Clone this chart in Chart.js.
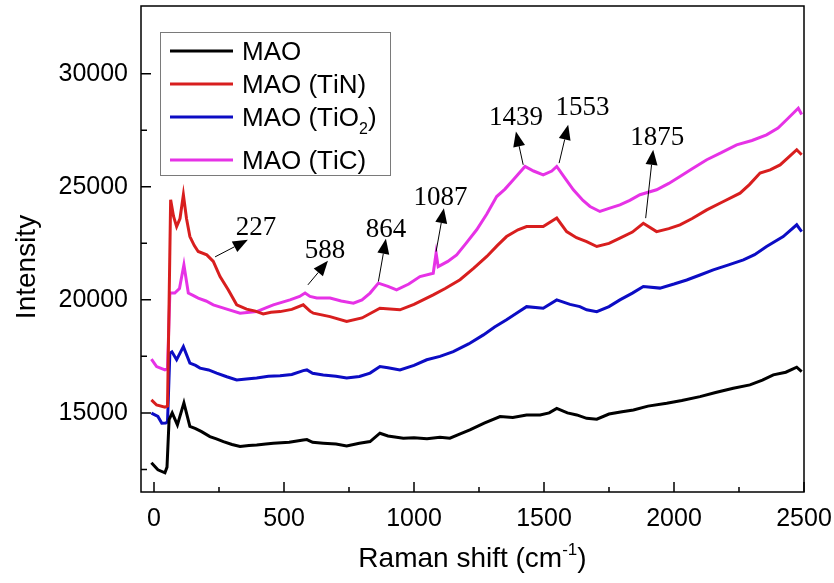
<!DOCTYPE html>
<html>
<head>
<meta charset="utf-8">
<script src="https://cdn.jsdelivr.net/npm/chart.js@4.4.1/dist/chart.umd.min.js"></script>
<style>
  html, body { margin: 0; padding: 0; background: #fff; }
</style>
</head>
<body>
<canvas id="chart" width="834" height="583"></canvas>
<script>
// axis ticks
const xTicksMajor = [0, 500, 1000, 1500, 2000, 2500];
const xTicksMinor = [250, 750, 1250, 1750, 2250];
const yTicksMajor = [15000, 20000, 25000, 30000];
const yTicksMinor = [12500, 17500, 22500, 27500];

const seriesNames = ["MAO", "MAO (TiN)", "MAO (TiO\u2082)", "MAO (TiC)"];

// MAO (black)
const shiftMAO = [-10, 15, 42, 50, 58, 70, 90, 115, 138, 160, 183, 215, 240, 267, 300, 331, 365, 395, 430, 459, 520, 574, 588, 610, 651, 700, 741, 790, 831, 869, 900, 959, 1000, 1050, 1100, 1138, 1180, 1215, 1270, 1331, 1380, 1433, 1485, 1520, 1549, 1590, 1626, 1664, 1703, 1750, 1800, 1844, 1900, 1972, 2030, 2100, 2160, 2228, 2292, 2340, 2382, 2430, 2472, 2491];
const intMAO = [12790, 12480, 12350, 12600, 14700, 15000, 14470, 15440, 14400, 14300, 14170, 13950, 13850, 13730, 13600, 13510, 13560, 13580, 13620, 13660, 13700, 13800, 13820, 13700, 13660, 13620, 13540, 13660, 13730, 14100, 13980, 13880, 13900, 13860, 13920, 13880, 14080, 14250, 14550, 14840, 14800, 14910, 14910, 15000, 15200, 15000, 14910, 14760, 14720, 14950, 15050, 15130, 15300, 15430, 15550, 15720, 15900, 16090, 16240, 16450, 16680, 16800, 17020, 16830];

// MAO (TiN) (red)
const shiftTiN = [-10, 10, 42, 52, 64, 75, 87, 100, 113, 125, 138, 155, 170, 203, 228, 254, 286, 318, 356, 390, 420, 450, 485, 530, 574, 600, 613, 677, 741, 800, 869, 946, 1000, 1074, 1120, 1177, 1230, 1280, 1320, 1356, 1400, 1433, 1497, 1549, 1587, 1625, 1664, 1703, 1750, 1792, 1840, 1882, 1933, 1980, 2023, 2070, 2126, 2190, 2254, 2290, 2331, 2370, 2408, 2440, 2472, 2491];
const intTiN = [15575, 15350, 15250, 15300, 24430, 23700, 23240, 23600, 24650, 23600, 22800, 22400, 22140, 21990, 21700, 21030, 20440, 19780, 19590, 19500, 19380, 19450, 19480, 19580, 19780, 19500, 19410, 19260, 19040, 19200, 19630, 19560, 19800, 20220, 20500, 20890, 21400, 21920, 22400, 22800, 23100, 23240, 23240, 23620, 23020, 22750, 22580, 22360, 22500, 22730, 23000, 23390, 23020, 23150, 23320, 23600, 23980, 24350, 24720, 25100, 25610, 25750, 25970, 26300, 26640, 26420];

// MAO (TiO2) (blue)
const shiftTiO2 = [-10, 15, 30, 45, 52, 61, 69, 87, 113, 138, 160, 177, 210, 241, 280, 318, 355, 395, 440, 485, 530, 574, 588, 610, 651, 700, 741, 790, 831, 869, 900, 946, 1000, 1049, 1100, 1151, 1210, 1267, 1310, 1356, 1400, 1433, 1497, 1549, 1600, 1638, 1664, 1703, 1750, 1792, 1840, 1882, 1946, 2000, 2049, 2100, 2151, 2210, 2267, 2310, 2356, 2420, 2472, 2491];
const intTiO2 = [14990, 14840, 14540, 14550, 14600, 17640, 17700, 17350, 17930, 17200, 17100, 16980, 16900, 16760, 16600, 16460, 16500, 16540, 16620, 16640, 16700, 16870, 16900, 16750, 16680, 16620, 16540, 16610, 16760, 17050, 17000, 16900, 17100, 17350, 17500, 17710, 18050, 18450, 18800, 19120, 19450, 19700, 19630, 20000, 19800, 19700, 19560, 19480, 19700, 20000, 20300, 20590, 20520, 20700, 20880, 21100, 21330, 21550, 21770, 22000, 22360, 22800, 23320, 23020];

// MAO (TiC) (magenta)
const shiftTiC = [-10, 10, 42, 52, 61, 80, 98, 115, 132, 150, 170, 200, 228, 280, 331, 395, 430, 459, 523, 560, 581, 600, 626, 677, 720, 767, 800, 831, 863, 900, 933, 980, 1023, 1074, 1085, 1093, 1130, 1164, 1200, 1241, 1280, 1318, 1350, 1382, 1427, 1460, 1497, 1530, 1549, 1580, 1613, 1650, 1677, 1715, 1750, 1792, 1830, 1869, 1933, 1980, 2023, 2070, 2126, 2180, 2241, 2300, 2356, 2400, 2433, 2478, 2491];
const intTiC = [17380, 17050, 16900, 16950, 20300, 20300, 20500, 21550, 20300, 20200, 20080, 19950, 19780, 19590, 19410, 19480, 19650, 19780, 20000, 20150, 20300, 20150, 20080, 20080, 19950, 19850, 20000, 20300, 20740, 20600, 20440, 20700, 21030, 21180, 22070, 21470, 21700, 21990, 22500, 23100, 23800, 24570, 24900, 25310, 25900, 25700, 25530, 25700, 25900, 25400, 24870, 24400, 24130, 23910, 24050, 24200, 24400, 24650, 24870, 25150, 25460, 25800, 26200, 26500, 26860, 27050, 27300, 27600, 27970, 28480, 28200];

// peak labels: text anchor, arrow tail and arrow tip, in data units
const peakLabels = ["227", "588", "864", "1087", "1439", "1553", "1875"];
const peakTextX = [392, 658, 892, 1102, 1392, 1648, 1936];
const peakTextY = [22876, 21858, 22788, 24204, 27743, 28186, 26858];
const peakTailX = [235, 592, 863, 1085, 1420, 1558, 1891];
const peakTailY = [21903, 20664, 20810, 22137, 25974, 26049, 23615];
const peakTipX = [361, 669, 892, 1115, 1392, 1593, 1920];
const peakTipY = [22655, 21726, 22700, 24058, 27447, 27743, 26637];

const colors = ["#000000", "#d81e1e", "#0c0cc4", "#e632e6"];
const SANS = "'Liberation Sans', Arial, sans-serif";
const SERIF = "'Liberation Serif', 'Times New Roman', serif";

function toPoints(xs, ys) {
  return xs.map((x, i) => ({ x: x, y: ys[i] }));
}

const datasets = [
  toPoints(shiftMAO, intMAO),
  toPoints(shiftTiN, intTiN),
  toPoints(shiftTiO2, intTiO2),
  toPoints(shiftTiC, intTiC)
].map((pts, i) => ({
  label: seriesNames[i],
  data: pts,
  borderColor: colors[i],
  borderWidth: 3,
  pointRadius: 0,
  tension: 0,
  fill: false
}));

// text with unicode subscript 2 drawn as a lowered small digit
function drawRich(ctx, text, x, y, size) {
  let cx = x;
  for (const ch of text) {
    if (ch === "\u2082") {
      ctx.font = Math.round(size * 0.62) + "px " + SANS;
      ctx.fillText("2", cx, y + size * 0.3);
      cx += ctx.measureText("2").width;
    } else {
      ctx.font = size + "px " + SANS;
      ctx.fillText(ch, cx, y);
      cx += ctx.measureText(ch).width;
    }
  }
}

const decorPlugin = {
  id: "decor",
  afterDatasetsDraw(chart) {
    const ctx = chart.ctx;
    const a = chart.chartArea;
    const xs = chart.scales.x, ys = chart.scales.y;
    ctx.save();

    // frame
    ctx.strokeStyle = "#000";
    ctx.lineWidth = 1.5;
    ctx.strokeRect(a.left, a.top, a.right - a.left, a.bottom - a.top);

    // inward ticks
    ctx.beginPath();
    xTicksMajor.forEach(v => { const p = xs.getPixelForValue(v); ctx.moveTo(p, a.bottom); ctx.lineTo(p, a.bottom - 10); });
    xTicksMinor.forEach(v => { const p = xs.getPixelForValue(v); ctx.moveTo(p, a.bottom); ctx.lineTo(p, a.bottom - 5); });
    yTicksMajor.forEach(v => { const p = ys.getPixelForValue(v); ctx.moveTo(a.left, p); ctx.lineTo(a.left + 10, p); });
    yTicksMinor.forEach(v => { const p = ys.getPixelForValue(v); ctx.moveTo(a.left, p); ctx.lineTo(a.left + 6, p); });
    ctx.stroke();

    // peak annotations
    ctx.fillStyle = "#000";
    ctx.strokeStyle = "#000";
    ctx.lineWidth = 1;
    peakLabels.forEach((lab, i) => {
      const tx = xs.getPixelForValue(peakTailX[i]), ty = ys.getPixelForValue(peakTailY[i]);
      const hx = xs.getPixelForValue(peakTipX[i]), hy = ys.getPixelForValue(peakTipY[i]);
      const ang = Math.atan2(hy - ty, hx - tx);
      const len = 15, half = 6;
      const bx = hx - len * Math.cos(ang), by = hy - len * Math.sin(ang);
      ctx.beginPath();
      ctx.moveTo(tx, ty);
      ctx.lineTo(bx, by);
      ctx.stroke();
      ctx.beginPath();
      ctx.moveTo(hx, hy);
      ctx.lineTo(bx + half * Math.sin(ang), by - half * Math.cos(ang));
      ctx.lineTo(bx - half * Math.sin(ang), by + half * Math.cos(ang));
      ctx.closePath();
      ctx.fill();

      ctx.font = "27px " + SERIF;
      ctx.textAlign = "center";
      ctx.textBaseline = "alphabetic";
      ctx.fillText(lab, xs.getPixelForValue(peakTextX[i]), ys.getPixelForValue(peakTextY[i]));
    });

    // legend box
    const lx = 160, ly = 32, lw = 230, lh = 143;
    ctx.fillStyle = "#fff";
    ctx.fillRect(lx, ly, lw, lh);
    ctx.strokeStyle = "#7a7a7a";
    ctx.lineWidth = 1;
    ctx.strokeRect(lx + 0.5, ly + 0.5, lw, lh);
    const rowY = [51, 84, 117, 160];
    ctx.textAlign = "left";
    ctx.textBaseline = "alphabetic";
    chart.data.datasets.forEach((ds, i) => {
      ctx.strokeStyle = ds.borderColor;
      ctx.lineWidth = 3;
      ctx.beginPath();
      ctx.moveTo(170, rowY[i]);
      ctx.lineTo(233, rowY[i]);
      ctx.stroke();
      ctx.fillStyle = "#000";
      drawRich(ctx, ds.label, 242, rowY[i] + 9, 26);
    });

    // axis titles
    ctx.fillStyle = "#000";
    ctx.font = "28px " + SANS;
    ctx.textAlign = "left";
    const t1 = "Raman shift (cm", sup = "-1", t2 = ")";
    const w1 = ctx.measureText(t1).width, w3 = ctx.measureText(t2).width;
    ctx.font = "17px " + SANS;
    const w2 = ctx.measureText(sup).width;
    let sx = 472.5 - (w1 + w2 + w3) / 2;
    ctx.font = "28px " + SANS;
    ctx.fillText(t1, sx, 567);
    ctx.font = "17px " + SANS;
    ctx.fillText(sup, sx + w1, 555);
    ctx.font = "28px " + SANS;
    ctx.fillText(t2, sx + w1 + w2, 567);

    ctx.translate(35, 267);
    ctx.rotate(-Math.PI / 2);
    ctx.textAlign = "center";
    ctx.fillText("Intensity", 0, 0);
    ctx.restore();
  }
};

new Chart(document.getElementById("chart"), {
  type: "line",
  data: { datasets: datasets },
  options: {
    responsive: false,
    animation: false,
    layout: { padding: { left: 0, right: 30, top: 6, bottom: 0 } },
    plugins: { legend: { display: false }, tooltip: { enabled: false } },
    scales: {
      x: {
        type: "linear",
        min: -50,
        max: 2500,
        afterBuildTicks: s => { s.ticks = xTicksMajor.map(v => ({ value: v })); },
        afterFit: s => { s.height = 91; s.paddingLeft = 0; s.paddingRight = 0; },
        grid: { display: false, drawTicks: false },
        border: { display: false },
        ticks: { color: "#000", font: { family: SANS, size: 25 }, padding: 12, maxRotation: 0, callback: v => String(v) }
      },
      y: {
        type: "linear",
        min: 11500,
        max: 33000,
        afterBuildTicks: s => { s.ticks = yTicksMajor.map(v => ({ value: v })); },
        afterFit: s => { s.width = 141; s.paddingTop = 0; s.paddingBottom = 0; },
        grid: { display: false, drawTicks: false },
        border: { display: false },
        ticks: { color: "#000", font: { family: SANS, size: 25 }, padding: 13, callback: v => String(v) }
      }
    }
  },
  plugins: [decorPlugin]
});
</script>
</body>
</html>
